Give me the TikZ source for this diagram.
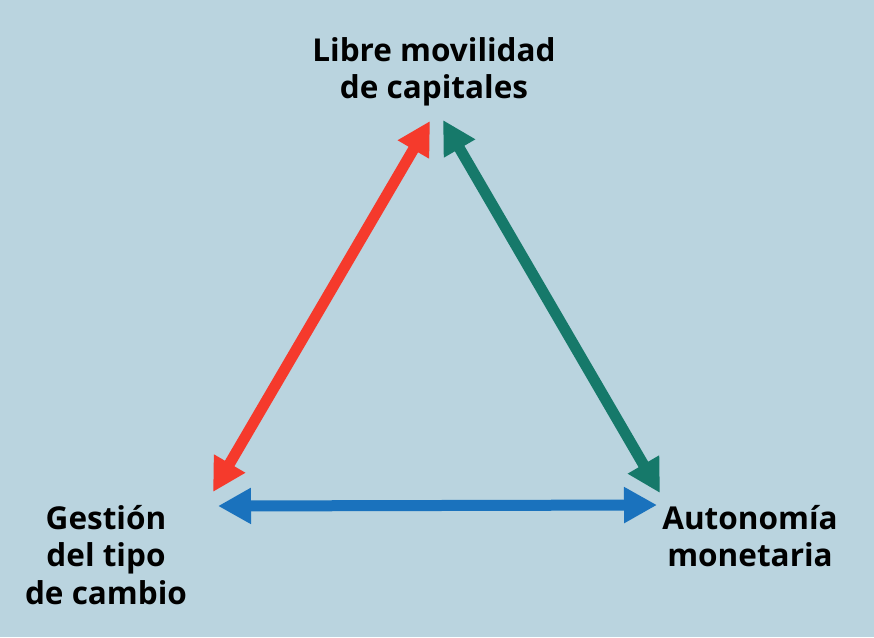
\documentclass[tikz,border=0pt]{standalone}
\usepackage{fontspec}
\setmainfont{Open Sans}
\usetikzlibrary{arrows.meta}
\definecolor{bg}{HTML}{BAD4DF}
\definecolor{cred}{HTML}{F53A2C}
\definecolor{cgreen}{HTML}{16796A}
\definecolor{cblue}{HTML}{1A72BD}
\tikzset{
  lbl/.style={font=\bfseries\fontsize{31.5}{37.5}\selectfont, text=black, inner sep=0pt},
  dbl/.style={line width=11pt, {Triangle[width=34pt,length=33pt]}-{Triangle[width=34pt,length=33pt]}}
}
\begin{document}
\begin{tikzpicture}[x=1pt,y=-1pt]
\fill[bg] (0,0) rectangle (874,637);
\useasboundingbox (0,0) rectangle (874,637);
\node[lbl, align=center] (top) at (434,72) {Libre movilidad\\de capitales};
\node[lbl, align=center] (left) at (106,555) {Gestión\\del tipo\\de cambio};
\node[lbl, align=center] (right) at (750,536) {Autonomía\\monetaria};
\coordinate (rA) at (213,492);
\coordinate (rB) at (430,121);
\coordinate (gA) at (443,120);
\coordinate (gB) at (660,493);
\coordinate (bA) at (218,506);
\coordinate (bB) at (657,505);
\draw[dbl, cred] (rA) -- (rB);
\draw[dbl, cgreen] (gA) -- (gB);
\draw[dbl, cblue] (bA) -- (bB);
\end{tikzpicture}
\end{document}
